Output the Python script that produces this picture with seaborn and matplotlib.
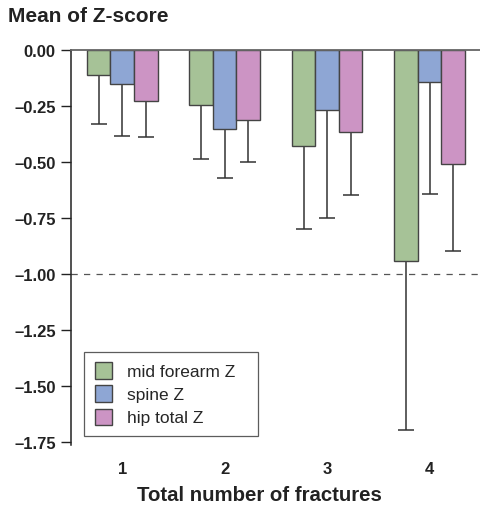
import matplotlib
matplotlib.use("Agg")
import matplotlib.pyplot as plt
import seaborn as sns
import pandas as pd
import numpy as np

categories = ["1", "2", "3", "4"]
series_names = ["mid forearm Z", "spine Z", "hip total Z"]
forearm_mean = [-0.11, -0.245, -0.43, -0.945]
spine_mean = [-0.15, -0.355, -0.27, -0.145]
hip_mean = [-0.23, -0.315, -0.365, -0.51]
forearm_low = [-0.33, -0.485, -0.80, -1.70]
spine_low = [-0.385, -0.57, -0.75, -0.645]
hip_low = [-0.39, -0.50, -0.65, -0.90]
yticks = [0.0, -0.25, -0.5, -0.75, -1.0, -1.25, -1.5, -1.75]

colors = ["#a6c297", "#8ea6d4", "#cc94c4"]

means = [forearm_mean, spine_mean, hip_mean]
lows = [forearm_low, spine_low, hip_low]
rows = []
for s, m, lo in zip(series_names, means, lows):
    for c, mv, lv in zip(categories, m, lo):
        rows.append({"cat": c, "series": s, "mean": mv, "low": lv})
df = pd.DataFrame(rows)

sns.set_style("white")
plt.rcParams["font.family"] = ["Liberation Sans", "DejaVu Sans"]

fig = plt.figure(figsize=(4.81, 5.06), dpi=100)
ax = fig.add_axes([0.1476, 0.1186, 0.852, 0.7806])

sns.barplot(data=df, x="cat", y="mean", hue="series", order=categories,
            hue_order=series_names, palette=colors, errorbar=None,
            width=0.69, gap=0, edgecolor="#444444", linewidth=1.0,
            saturation=1, ax=ax, zorder=2)

# error bars (downward only)
for i, s in enumerate(series_names):
    cont = ax.containers[i]
    sub = df[df["series"] == s].set_index("cat").loc[categories]
    for patch, (_, r) in zip(cont.patches, sub.iterrows()):
        xc = patch.get_x() + patch.get_width() / 2
        ax.errorbar(xc, r["mean"], yerr=[[r["mean"] - r["low"]], [0]],
                    fmt="none", ecolor="#333333", elinewidth=1.1,
                    capsize=6, capthick=1.1, zorder=1)

ax.axhline(-1.0, color="#555555", linestyle=(0, (5, 5)), linewidth=0.9, zorder=0)

ax.set_xlim(-0.5, 3.5)
ax.set_ylim(-1.765, 0)
ax.set_yticks(yticks)
ax.set_yticklabels([f"{v:.2f}".replace("-", "\u2013") for v in yticks],
                   fontsize=12, fontweight="bold", color="#222222")
ax.set_xticks(range(len(categories)))
ax.set_xticklabels(categories, fontsize=12, fontweight="bold", color="#222222")

for sp in ["right", "bottom"]:
    ax.spines[sp].set_visible(False)
ax.spines["top"].set_color("#666666")
ax.spines["top"].set_linewidth(1.3)
ax.spines["left"].set_color("#222222")
ax.spines["left"].set_linewidth(1.1)

ax.tick_params(axis="y", which="both", left=True, length=7, width=1.0,
               color="#222222", pad=4)
ax.tick_params(axis="x", bottom=False, pad=8)

ax.set_xlabel("Total number of fractures", fontsize=14.7, fontweight="bold",
              color="#222222")
ax.xaxis.set_label_coords(0.459, -0.102)
ax.set_ylabel("")
fig.text(0.017, 0.967, "Mean of Z-score", fontsize=15, fontweight="bold",
         color="#222222", ha="left", va="center")

leg = ax.legend(loc="lower left", bbox_to_anchor=(0.032, 0.023, 0.424, 0.0),
                mode="expand", frameon=True,
                fancybox=False, edgecolor="#333333", fontsize=12.5,
                handlelength=1.0, handleheight=1.05, handletextpad=0.85,
                borderpad=0.6, labelspacing=0.35, borderaxespad=0)
leg.get_frame().set_linewidth(0.9)

fig.savefig("out.png", dpi=100, facecolor="white")
